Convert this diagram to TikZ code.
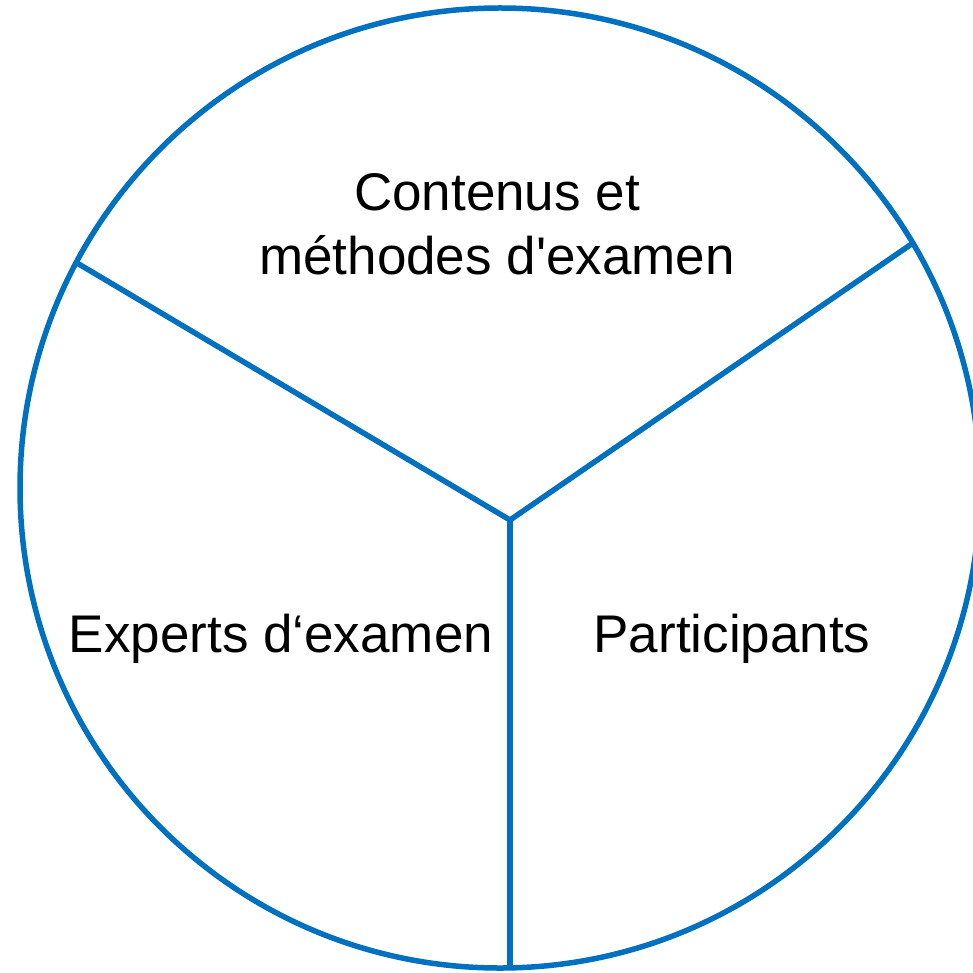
\documentclass[tikz,border=0pt]{standalone}
\usepackage{fontspec}
\setmainfont{Liberation Sans}
\definecolor{ringblue}{HTML}{0070C0}
\tikzset{
  ring/.style={draw=ringblue,line width=5.5pt},
  sector/.style={font=\fontsize{53}{64}\selectfont,align=center,anchor=base,inner sep=0pt}
}
\begin{document}
\begin{tikzpicture}[x=1pt,y=-1pt]
\useasboundingbox (0,0) rectangle (972,973);
\draw[ring] (500,488) circle (480pt);
\coordinate (hub) at (510,520);
\coordinate (rimleft) at (77,263);
\coordinate (rimright) at (913,243);
\coordinate (rimbottom) at (510,968);
\draw[ring] (rimleft) -- (hub) -- (rimright);
\draw[ring] (hub) -- (rimbottom);
\node[sector] (contenus) at (497,275) {Contenus et\\méthodes d\textquotesingle examen};
\node[sector] (experts) at (281,652) {Experts d‘examen};
\node[sector] (participants) at (732,652) {Participants};
\end{tikzpicture}
\end{document}
